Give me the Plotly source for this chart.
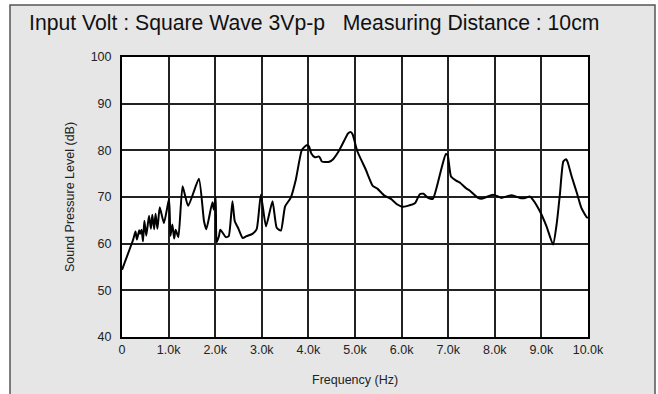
import plotly.graph_objects as go

freq_khz = [0.00, 0.24, 0.29, 0.32, 0.37, 0.39, 0.42, 0.45, 0.48, 0.52, 0.58, 0.62, 0.65, 0.69, 0.72, 0.76,
            0.81, 0.90, 1.01, 1.04, 1.08, 1.12, 1.15, 1.21, 1.30, 1.42, 1.65, 1.76, 1.81, 1.94, 1.97, 2.01,
            2.03, 2.08, 2.11, 2.23, 2.29, 2.37, 2.42, 2.49, 2.59, 2.67, 2.80, 2.89, 2.98, 3.09, 3.23, 3.32,
            3.41, 3.50, 3.62, 3.73, 3.86, 3.96, 4.01, 4.06, 4.14, 4.22, 4.25, 4.29, 4.43, 4.52, 4.65, 4.77,
            4.85, 4.91, 4.95, 5.05, 5.23, 5.38, 5.48, 5.63, 5.77, 5.91, 6.02, 6.13, 6.29, 6.39, 6.47, 6.57,
            6.67, 6.74, 6.85, 6.95, 6.99, 7.06, 7.17, 7.26, 7.38, 7.46, 7.56, 7.64, 7.71, 7.82, 7.96, 8.07,
            8.14, 8.25, 8.36, 8.45, 8.54, 8.65, 8.75, 8.82, 8.97, 9.11, 9.25, 9.33, 9.40, 9.47, 9.53, 9.56,
            9.65, 9.76, 9.86, 9.97, 10.0]
spl_db = [54.4, 60.9, 62.6, 60.9, 62.9, 62.1, 63.0, 60.5, 64.9, 61.7, 66.0, 63.2, 66.2, 63.1, 66.4, 63.2,
          67.8, 64.4, 69.6, 61.7, 64.1, 61.1, 63.0, 61.4, 72.3, 68.1, 73.9, 64.8, 63.1, 68.9, 67.3, 70.0,
          60.3, 61.6, 63.0, 61.4, 61.6, 69.1, 64.8, 63.4, 61.2, 61.6, 62.1, 63.1, 70.5, 63.7, 69.1, 63.4,
          62.8, 68.0, 69.8, 73.7, 80.1, 81.1, 80.9, 79.4, 78.5, 78.7, 78.4, 77.6, 77.5, 78.0, 79.8, 82.1,
          83.6, 83.9, 83.4, 79.8, 75.9, 72.4, 71.8, 70.3, 69.6, 68.4, 67.9, 68.1, 68.7, 70.6, 70.7, 69.8,
          69.6, 71.6, 75.9, 79.2, 78.9, 74.4, 73.5, 73.0, 71.9, 71.4, 70.5, 69.8, 69.6, 70.0, 70.5, 70.1,
          69.8, 70.1, 70.4, 70.1, 69.8, 69.8, 70.1, 69.4, 66.9, 63.7, 59.8, 64.4, 70.9, 77.6, 78.1, 77.6,
          74.4, 70.9, 67.6, 65.7, 65.5]
freq_hz = [f * 1000 for f in freq_khz]

x_tick_vals = [0, 1000, 2000, 3000, 4000, 5000, 6000, 7000, 8000, 9000, 10000]
x_tick_text = ["0", "1.0k", "2.0k", "3.0k", "4.0k", "5.0k", "6.0k", "7.0k", "8.0k", "9.0k", "10.0k"]
y_tick_vals = [40, 50, 60, 70, 80, 90, 100]

title_text = "Input Volt : Square Wave 3Vp-p   Measuring Distance : 10cm"
x_title = "Frequency (Hz)"
y_title = "Sound Pressure Level (dB)"

FONT = "Liberation Sans, Arial, sans-serif"

fig = go.Figure()
fig.add_trace(go.Scatter(x=freq_hz, y=spl_db, mode="lines",
                         line=dict(color="black", width=2, shape="spline", smoothing=0.5),
                         showlegend=False, hoverinfo="skip"))

L, R, T, B = 122, 70, 57, 57
W, H = 658, 394
pw, ph = W - L - R, H - T - B

def px_x(px):
    return (px - L) / pw

def px_y(py):
    return (H - B - py) / ph

fig.update_layout(
    width=W, height=H,
    margin=dict(l=L, r=R, t=T, b=B, pad=0),
    paper_bgcolor="white",
    plot_bgcolor="white",
    font=dict(family=FONT, color="#222", size=12.5),
    xaxis=dict(range=[0, 10000], tickvals=x_tick_vals, ticktext=x_tick_text,
               showgrid=True, gridcolor="#222", gridwidth=1.5,
               showline=True, linecolor="black", linewidth=2, mirror=True,
               ticks="", zeroline=False, tickfont=dict(size=12.5, color="#222")),
    yaxis=dict(range=[40, 100], tickvals=y_tick_vals,
               showgrid=True, gridcolor="#222", gridwidth=1.5,
               showline=True, linecolor="black", linewidth=2, mirror=True,
               ticks="", zeroline=False, ticklabelstandoff=6, tickfont=dict(size=12.5, color="#222")),
    shapes=[
        dict(type="rect", xref="paper", yref="paper",
             x0=px_x(10), x1=px_x(655), y0=px_y(420), y1=px_y(5),
             line=dict(color="#555", width=1.5), fillcolor="#e6e6e6", layer="below"),
        dict(type="rect", xref="paper", yref="paper", x0=0, x1=1, y0=0, y1=1,
             line=dict(width=0), fillcolor="white", layer="below"),
    ],
    annotations=[
        dict(text=title_text, xref="paper", yref="paper", x=px_x(27), y=px_y(23),
             xanchor="left", yanchor="middle", showarrow=False,
             font=dict(size=21.2, color="#111", family=FONT)),
        dict(text=x_title, xref="paper", yref="paper", x=px_x(355), y=px_y(380),
             xanchor="center", yanchor="middle", showarrow=False,
             font=dict(size=12.5, color="#222", family=FONT)),
        dict(text=y_title, xref="paper", yref="paper", x=px_x(70), y=px_y(197),
             xanchor="center", yanchor="middle", showarrow=False, textangle=-90,
             font=dict(size=12.5, color="#222", family=FONT)),
    ],
)

fig.write_html("out.html", config={"displayModeBar": False},
               post_script="document.body.style.margin='0';")
